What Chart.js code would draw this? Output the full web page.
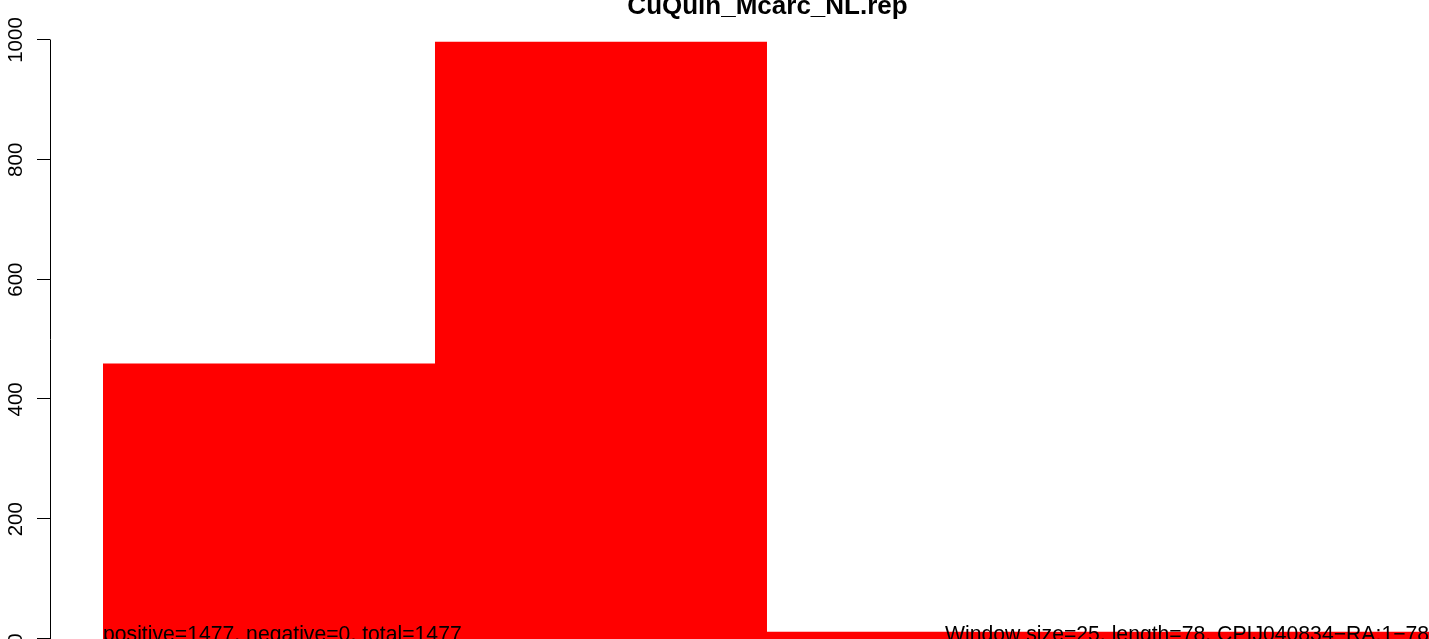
<!DOCTYPE html>
<html>
<head>
<meta charset="utf-8">
<script src="https://cdn.jsdelivr.net/npm/chart.js@4"></script>
<style>
  body { margin: 0; background: #fff; }
  canvas { display: block; }
</style>
</head>
<body>
<canvas id="c" width="1429" height="639"></canvas>
<script>
// window start positions and counts (window size 25)
const binStarts = [0, 25, 50];
const binCounts = [460, 997, 12];
const yTicks = [0, 200, 400, 600, 800, 1000];
const titleText = "CuQuin_Mcarc_NL.rep";
const leftNote = "positive=1477, negative=0, total=1477";
const rightNote = "Window size=25, length=78, CPIJ040834\u2212RA:1\u221278";

let pts = binStarts.map((x, i) => ({ x: x, y: binCounts[i] }));
pts.push({ x: 110, y: binCounts[binCounts.length - 1] });

const FONT = "Liberation Sans, Arial, Helvetica, sans-serif";

const rPlot = {
  id: "rPlot",
  afterDraw(chart) {
    let ctx = chart.ctx;
    let y = chart.scales.y;
    ctx.save();
    ctx.fillStyle = "#000";
    ctx.strokeStyle = "#000";
    ctx.lineWidth = 1;

    // y axis
    let ax = 50.5;
    ctx.beginPath();
    ctx.moveTo(ax, y.getPixelForValue(yTicks[0]));
    ctx.lineTo(ax, y.getPixelForValue(yTicks[yTicks.length - 1]));
    yTicks.forEach(t => {
      let py = Math.round(y.getPixelForValue(t)) - 0.5;
      ctx.moveTo(37, py);
      ctx.lineTo(ax, py);
    });
    ctx.stroke();

    ctx.font = "20.5px " + FONT;
    ctx.textAlign = "center";
    ctx.textBaseline = "alphabetic";
    yTicks.forEach(t => {
      ctx.save();
      ctx.translate(22, y.getPixelForValue(t));
      ctx.rotate(-Math.PI / 2);
      ctx.fillText(String(t), 0, 0);
      ctx.restore();
    });

    // title
    ctx.font = "bold 26px " + FONT;
    ctx.textAlign = "center";
    ctx.fillText(titleText, 767.5, 14);

    // notes
    ctx.font = "21.2px " + FONT;
    ctx.textAlign = "left";
    ctx.fillText(leftNote, 103, 641);
    ctx.fillText(rightNote, 945, 641);
    ctx.restore();
  }
};

new Chart(document.getElementById("c"), {
  type: "line",
  data: {
    datasets: [{
      data: pts,
      stepped: "before",
      fill: "origin",
      backgroundColor: "#ff0000",
      borderColor: "#ff0000",
      borderWidth: 0,
      pointRadius: 0
    }]
  },
  options: {
    responsive: false,
    animation: false,
    layout: { padding: { left: 50, top: 40, right: 0, bottom: 0 } },
    plugins: { legend: { display: false }, tooltip: { enabled: false } },
    scales: {
      x: { type: "linear", min: -3.99, max: 99.85, display: false },
      y: { min: 0, max: 1000, display: false }
    }
  },
  plugins: [rPlot]
});
</script>
</body>
</html>
